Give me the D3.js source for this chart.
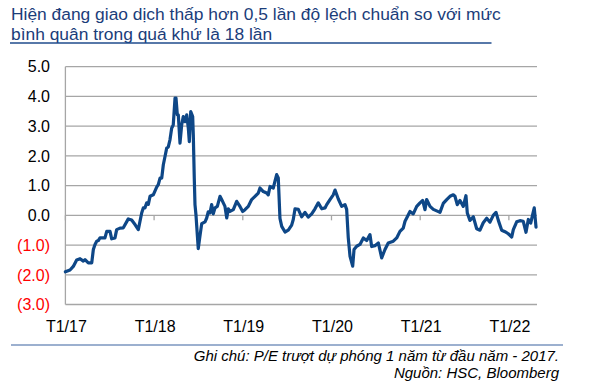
<!DOCTYPE html>
<html>
<head>
<meta charset="utf-8">
<script src="https://cdn.jsdelivr.net/npm/d3@7"></script>
<style>
  html, body { margin: 0; padding: 0; background: #ffffff; }
  svg { display: block; font-family: Arial, "Liberation Sans", sans-serif; }
</style>
</head>
<body>
<svg id="chart" width="599" height="388"></svg>
<script>
// ---- Data (decimal year, P/E deviation in std units) ----
const years = [2017.000,2017.052,2017.089,2017.127,2017.165,2017.202,2017.221,2017.258,2017.297,2017.315,2017.334,2017.353,2017.371,2017.390,2017.446,2017.466,2017.503,2017.522,2017.559,2017.578,2017.616,2017.653,2017.709,2017.747,2017.785,2017.822,2017.860,2017.878,2017.897,2017.917,2017.935,2017.954,2017.991,
2018.029,2018.047,2018.067,2018.086,2018.104,2018.123,2018.142,2018.160,2018.179,2018.198,2018.216,2018.236,2018.247,2018.262,2018.273,2018.292,2018.311,2018.329,2018.348,2018.368,2018.386,2018.397,2018.413,2018.435,2018.442,2018.453,2018.461,2018.472,2018.487,2018.498,2018.517,2018.537,2018.574,2018.593,2018.611,2018.630,2018.649,2018.667,2018.687,2018.713,2018.743,2018.762,2018.780,2018.799,2018.819,2018.837,2018.856,2018.893,2018.931,2018.968,2018.999,
2019.025,2019.062,2019.100,2019.138,2019.175,2019.194,2019.231,2019.269,2019.287,2019.307,2019.344,2019.363,2019.382,2019.400,2019.419,2019.439,2019.476,2019.513,2019.551,2019.569,2019.589,2019.626,2019.664,2019.701,2019.738,2019.777,2019.814,2019.851,2019.890,2019.927,2019.946,2019.983,
2020.020,2020.040,2020.077,2020.115,2020.152,2020.171,2020.189,2020.209,2020.239,2020.254,2020.284,2020.321,2020.359,2020.397,2020.434,2020.453,2020.490,2020.528,2020.566,2020.603,2020.640,2020.697,2020.735,2020.772,2020.809,2020.829,2020.848,2020.885,2020.922,2020.961,2020.998,
2021.028,2021.054,2021.073,2021.111,2021.148,2021.186,2021.223,2021.260,2021.299,2021.336,2021.373,2021.392,2021.418,2021.449,2021.486,2021.516,2021.531,2021.561,2021.599,2021.637,2021.674,2021.711,2021.750,2021.787,2021.824,2021.855,2021.881,2021.919,2021.956,2021.993,
2022.032,2022.050,2022.088,2022.125,2022.162,2022.193,2022.219,2022.246,2022.268,2022.286,2022.306];

const values = [-1.90,-1.84,-1.72,-1.50,-1.46,-1.54,-1.49,-1.60,-1.60,-1.15,-0.98,-0.87,-0.85,-0.76,-0.76,-0.54,-0.54,-0.79,-0.76,-0.48,-0.43,-0.42,-0.12,-0.16,-0.31,-0.48,0.08,0.25,0.25,0.42,0.37,0.64,0.69,
0.95,1.03,1.25,1.25,1.70,1.98,2.26,2.30,2.54,2.93,3.04,3.94,3.94,3.38,3.38,2.43,3.04,3.32,3.15,3.38,2.93,2.48,3.49,3.32,2.71,1.25,0.36,0.02,-0.65,-1.12,-0.70,-0.28,-0.22,-0.09,0.12,0.08,0.36,0.05,0.25,0.30,0.64,0.53,0.42,0.30,-0.09,0.22,0.13,0.19,0.47,0.30,0.13,
0.19,0.30,0.53,0.64,0.75,0.92,0.80,0.75,0.69,0.97,0.92,1.15,1.37,1.26,-0.10,-0.37,-0.56,-0.50,-0.33,-0.14,0.22,0.20,-0.05,0.10,-0.06,0.05,0.22,0.42,0.22,0.25,0.36,0.53,
0.69,0.85,0.55,0.30,0.36,0.20,-0.75,-1.38,-1.71,-1.15,-1.04,-0.98,-0.76,-0.85,-0.65,-1.05,-1.02,-0.93,-1.43,-1.15,-0.93,-0.87,-0.76,-0.54,-0.43,-0.20,-0.09,0.13,0.05,0.30,0.42,
0.50,0.19,0.53,0.30,0.20,0.15,0.10,0.40,0.53,0.64,0.69,0.64,0.36,0.50,0.30,0.66,0.08,-0.17,-0.05,-0.45,-0.50,-0.25,-0.10,-0.23,0.00,0.10,-0.17,-0.50,-0.55,-0.62,
-0.73,-0.48,-0.22,-0.18,-0.20,-0.57,-0.14,-0.26,0.02,0.25,-0.40];

const yTicks = [5, 4, 3, 2, 1, 0, -1, -2, -3];
const xTickYears = [2017, 2018, 2019, 2020, 2021, 2022];
const xTickLabels = ["T1/17", "T1/18", "T1/19", "T1/20", "T1/21", "T1/22"];
const titleLines = ["Hiện đang giao dịch thấp hơn 0,5 lần độ lệch chuẩn so với mức",
                    "bình quân trong quá khứ là 18 lần"];
const noteLines = ["Ghi chú: P/E trượt dự phóng 1 năm từ đầu năm - 2017.",
                   "Nguồn: HSC, Bloomberg"];

// ---- Layout ----
const svg = d3.select("#chart");
const plot = { left: 65.4, right: 537, top: 66.7, bottom: 304.5 };

const x = d3.scaleLinear().domain([2017, 2022.317]).range([plot.left, plot.right]);
const y = d3.scaleLinear().domain([-3, 5]).range([plot.bottom, plot.top]);

// Title
const title = svg.append("g");
titleLines.forEach((t, i) => {
  title.append("text")
    .attr("x", 11).attr("y", 19.5 + i * 20.5)
    .attr("font-size", 17.4).attr("fill", "#1b3d7a")
    .text(t);
});
svg.append("line").attr("x1", 10).attr("x2", 491.5).attr("y1", 43).attr("y2", 43)
  .attr("stroke", "#1f4b8c").attr("stroke-width", 1.3);

// Gridlines
svg.append("g").selectAll("line").data(yTicks).join("line")
  .attr("x1", plot.left).attr("x2", plot.right)
  .attr("y1", d => y(d)).attr("y2", d => y(d))
  .attr("stroke", "#a6a6a6").attr("stroke-width", 1.3);

// Left axis line
svg.append("line").attr("x1", plot.left).attr("x2", plot.left)
  .attr("y1", plot.top).attr("y2", plot.bottom)
  .attr("stroke", "#a6a6a6").attr("stroke-width", 1.3);

// Small ticks on zero line
svg.append("g").selectAll("line").data(xTickYears).join("line")
  .attr("x1", d => x(d)).attr("x2", d => x(d))
  .attr("y1", y(0)).attr("y2", y(0) + 5)
  .attr("stroke", "#a6a6a6").attr("stroke-width", 1.3);

// Y labels
const fmtY = d => d < 0 ? "(" + d3.format(".1f")(-d) + ")" : d3.format(".1f")(d);
svg.append("g").selectAll("text").data(yTicks).join("text")
  .attr("x", 50).attr("y", d => y(d)).attr("dy", "0.36em")
  .attr("text-anchor", "end").attr("font-size", 16)
  .attr("fill", d => d < 0 ? "#ff0000" : "#000000")
  .text(fmtY);

// X labels
svg.append("g").selectAll("text").data(xTickYears).join("text")
  .attr("x", d => x(d) + 1).attr("y", 331.5)
  .attr("text-anchor", "middle").attr("font-size", 16).attr("fill", "#000")
  .text((d, i) => xTickLabels[i]);

// Line
const data = years.map((t, i) => ({ t, v: values[i] }));
const line = d3.line().x(d => x(d.t)).y(d => y(d.v));
svg.append("path").datum(data)
  .attr("d", line).attr("fill", "none")
  .attr("stroke", "#0e4787").attr("stroke-width", 3.2)
  .attr("stroke-linejoin", "round").attr("stroke-linecap", "round");

// Footnote
svg.append("line").attr("x1", 11).attr("x2", 563).attr("y1", 345).attr("y2", 345)
  .attr("stroke", "#3b62a0").attr("stroke-width", 1.2);
noteLines.forEach((t, i) => {
  svg.append("text")
    .attr("x", 559).attr("y", 360.5 + i * 17)
    .attr("text-anchor", "end").attr("font-size", 15)
    .attr("font-style", "italic").attr("fill", "#000")
    .text(t);
});
</script>
</body>
</html>
